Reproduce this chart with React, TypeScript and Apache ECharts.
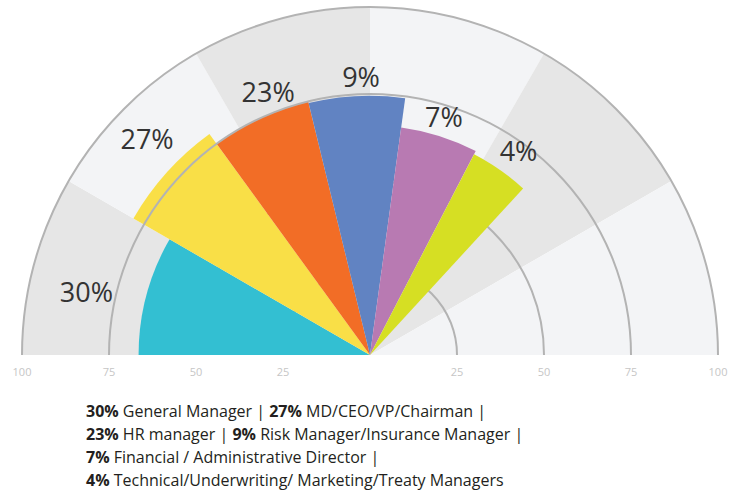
import React, { useEffect, useRef } from "react";
import * as echarts from "echarts";

// ---- data ----
const categories = [
  "General Manager",
  "MD/CEO/VP/Chairman",
  "HR manager",
  "Risk Manager/Insurance Manager",
  "Financial / Administrative Director",
  "Technical/Underwriting/ Marketing/Treaty Managers",
];
const shares = [30, 27, 23, 9, 7, 4];
// angular width of each wedge (degrees, measured clockwise from the left horizontal)
const wedgeSpan = [30, 24, 22.3, 21.5, 19.6, 15.2];
// radial length of each wedge on the 0-100 scale
const wedgeRadius = [66.5, 78.5, 75, 74.5, 66, 65];
const tickValues = [100, 75, 50, 25];
const bandEdges = [0, 30, 60, 90, 120, 150, 180];
const legendRows = [[0, 1], [2, 3], [4], [5]];

// ---- styles / layout ----
const wedgeColors = ["#33bfd2", "#f9df47", "#f26d26", "#6183c2", "#b87ab2", "#d6df23"];
const bandColors = ["#e6e6e6", "#f3f4f6"];
const ringColor = "#b3b3b3";
// [radial gap (scale units), angular shift (deg)] for the percent labels
const labelNudge = [
  [17, -2.4],
  [10.7, 2.1],
  [6.1, 3.7],
  [5.6, 1.1],
  [5.8, -0.4],
  [7.6, 1],
];

function toSector(api: any, r: number, a0: number, a1: number, r0 = 0) {
  const c = api.coord([0, a0]);
  const p0 = api.coord([r, a0]);
  const p1 = api.coord([r, a1]);
  const rr = Math.hypot(p0[0] - c[0], p0[1] - c[1]);
  const s = Math.atan2(p0[1] - c[1], p0[0] - c[0]);
  let e = Math.atan2(p1[1] - c[1], p1[0] - c[0]);
  while (e <= s) e += Math.PI * 2;
  return { cx: c[0], cy: c[1], r: rr, r0, startAngle: s, endAngle: e, clockwise: true };
}

export default function App() {
  const ref = useRef<HTMLDivElement>(null);
  useEffect(() => {
    document.body.style.margin = "0";
    const chart = echarts.init(ref.current!, null, { renderer: "svg" });

    const starts: number[] = [];
    let acc = 0;
    wedgeSpan.forEach((w) => {
      starts.push(acc);
      acc += w;
    });

    const bandData = bandEdges.slice(0, -1).map((a, i) => [100, a, bandEdges[i + 1]]);
    const wedgeData = shares.map((_, i) => [wedgeRadius[i], starts[i], starts[i] + wedgeSpan[i]]);

    const ringSeries = (values: number[], z: number) => ({
      type: "custom",
      coordinateSystem: "polar",
      z,
      silent: true,
      data: values.map((v) => [v, 0]),
      renderItem: (params: any, api: any) => {
        const sh = toSector(api, api.value(0), 0, 180);
        return {
          type: "arc",
          shape: { cx: sh.cx, cy: sh.cy, r: sh.r, startAngle: sh.startAngle, endAngle: sh.endAngle, clockwise: true },
          style: { stroke: ringColor, lineWidth: 2, fill: null },
        };
      },
    });

    const legendText = legendRows.map((row, ri) =>
      row
        .map((i) => `{b|${shares[i]}%} ${categories[i]}`)
        .join(" | ") + (ri < legendRows.length - 1 ? " |" : "")
    );

    const legendFont = "Open Sans";
    const legendSize = 16;

    chart.setOption({
      animation: false,
      polar: { center: [370, 355], radius: 348 },
      angleAxis: { type: "value", min: 0, max: 360, startAngle: 180, clockwise: true, show: false },
      radiusAxis: { type: "value", min: 0, max: 100, show: false },
      series: [
        {
          type: "custom",
          coordinateSystem: "polar",
          z: 1,
          silent: true,
          data: bandData,
          renderItem: (params: any, api: any) => ({
            type: "sector",
            shape: toSector(api, api.value(0), api.value(1), api.value(2)),
            style: { fill: bandColors[params.dataIndex % 2] },
          }),
        },
        ringSeries([25, 50], 2),
        {
          type: "custom",
          coordinateSystem: "polar",
          z: 3,
          data: wedgeData,
          renderItem: (params: any, api: any) => ({
            type: "sector",
            shape: toSector(api, api.value(0), api.value(1), api.value(2)),
            style: { fill: wedgeColors[params.dataIndex] },
          }),
        },
        ringSeries([75, 100], 4),
        {
          type: "custom",
          coordinateSystem: "polar",
          z: 5,
          silent: true,
          data: wedgeData,
          renderItem: (params: any, api: any) => {
            const i = params.dataIndex;
            const mid = (api.value(1) + api.value(2)) / 2 + labelNudge[i][1];
            const p = api.coord([api.value(0) + labelNudge[i][0], mid]);
            return {
              type: "text",
              x: p[0],
              y: p[1],
              style: {
                text: `${shares[i]}%`,
                fill: "#333333",
                fontSize: 27,
                fontFamily: "Open Sans",
                align: "center",
                verticalAlign: "middle",
              },
            };
          },
        },
        {
          type: "custom",
          coordinateSystem: "polar",
          z: 5,
          silent: true,
          data: tickValues.map((v) => [v, 0]),
          renderItem: (params: any, api: any) => {
            const v = api.value(0);
            const l = api.coord([v, 0]);
            const r = api.coord([v, 180]);
            const st = {
              text: String(v),
              fill: "#c6c6c6",
              fontSize: 11,
              fontFamily: "Open Sans",
              align: "center",
              verticalAlign: "middle",
            };
            return {
              type: "group",
              children: [
                { type: "text", x: l[0], y: l[1] + 16, style: st },
                { type: "text", x: r[0], y: r[1] + 16, style: st },
              ],
            };
          },
        },
      ],
      graphic: legendText.map((t, i) => ({
        type: "text",
        left: 86,
        top: 403 + i * 23,
        style: {
          text: t,
          fill: "#231f20",
          fontSize: legendSize,
          fontFamily: legendFont,
          rich: {
            b: { fontWeight: "bold", fontSize: legendSize, fontFamily: legendFont, fill: "#231f20" },
          },
        },
      })),
    });
    return () => chart.dispose();
  }, []);
  return <div ref={ref} style={{ width: 735, height: 490 }} />;
}
